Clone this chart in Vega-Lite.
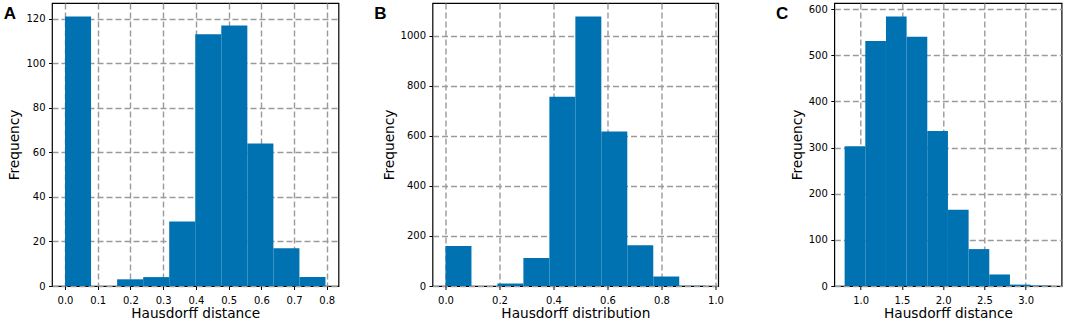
{
  "$schema": "https://vega.github.io/schema/vega-lite/v6.json",
  "padding": {"left": 3, "top": 2, "right": 0, "bottom": 0},
  "background": "white",
  "config": {
    "view": {"stroke": "black", "strokeWidth": 1.2},
    "text": {"font": "Liberation Sans", "fontSize": 17, "fontWeight": "bold", "color": "black", "align": "left", "baseline": "alphabetic"},
    "axis": {
      "domain": false,
      "ticks": true, "tickColor": "black", "tickSize": 3.5, "tickWidth": 1,
      "labelFont": "DejaVu Sans", "labelFontSize": 10, "labelColor": "black", "labelPadding": 3.5,
      "titleFont": "DejaVu Sans", "titleFontSize": 13.7, "titleFontWeight": "normal", "titleColor": "black",
      "grid": true, "gridColor": "#9a9a9a", "gridWidth": 1.4, "gridDash": [6, 3], "gridOpacity": 1,
      "zindex": 1
    },
    "axisX": {"titlePadding": 1, "labelPadding": 6},
    "axisY": {"titlePadding": 4}
  },
  "datasets": {
    "a": [
      {"lo": 0.0, "hi": 0.0796, "count": 121},
      {"lo": 0.0796, "hi": 0.1592, "count": 0},
      {"lo": 0.1592, "hi": 0.2388, "count": 3},
      {"lo": 0.2388, "hi": 0.3184, "count": 4},
      {"lo": 0.3184, "hi": 0.398, "count": 29},
      {"lo": 0.398, "hi": 0.4776, "count": 113},
      {"lo": 0.4776, "hi": 0.5572, "count": 117},
      {"lo": 0.5572, "hi": 0.6368, "count": 64},
      {"lo": 0.6368, "hi": 0.7164, "count": 17},
      {"lo": 0.7164, "hi": 0.796, "count": 4}
    ],
    "b": [
      {"lo": 0.0, "hi": 0.0962, "count": 160},
      {"lo": 0.0962, "hi": 0.1924, "count": 0},
      {"lo": 0.1924, "hi": 0.2886, "count": 10},
      {"lo": 0.2886, "hi": 0.3848, "count": 112},
      {"lo": 0.3848, "hi": 0.481, "count": 757},
      {"lo": 0.481, "hi": 0.5772, "count": 1078},
      {"lo": 0.5772, "hi": 0.6734, "count": 618},
      {"lo": 0.6734, "hi": 0.7696, "count": 163},
      {"lo": 0.7696, "hi": 0.8658, "count": 38},
      {"lo": 0.8658, "hi": 0.962, "count": 1}
    ],
    "c": [
      {"lo": 0.806, "hi": 1.0565, "count": 303},
      {"lo": 1.0565, "hi": 1.307, "count": 531},
      {"lo": 1.307, "hi": 1.5575, "count": 584},
      {"lo": 1.5575, "hi": 1.808, "count": 540},
      {"lo": 1.808, "hi": 2.0585, "count": 336},
      {"lo": 2.0585, "hi": 2.309, "count": 165},
      {"lo": 2.309, "hi": 2.5595, "count": 80},
      {"lo": 2.5595, "hi": 2.81, "count": 25},
      {"lo": 2.81, "hi": 3.0605, "count": 3},
      {"lo": 3.0605, "hi": 3.311, "count": 1}
    ],
    "panelA": [{"letter": "A"}],
    "panelB": [{"letter": "B"}],
    "panelC": [{"letter": "C"}]
  },
  "spacing": 50.3,
  "hconcat": [
    {
      "spacing": 33.5,
      "hconcat": [
        {
          "width": 286.5, "height": 283,
          "layer": [
            {
              "data": {"name": "a"},
              "mark": {"type": "bar", "color": "#0072b2"},
              "encoding": {
                "x": {"field": "lo", "type": "quantitative", "scale": {"domain": [-0.0398, 0.8358], "nice": false, "zero": false},
                      "axis": {"values": [0, 0.1, 0.2, 0.3, 0.4, 0.5, 0.6, 0.7, 0.8], "format": ".1f", "title": "Hausdorff distance"}},
                "x2": {"field": "hi"},
                "y": {"field": "count", "type": "quantitative", "scale": {"domain": [0, 127.05], "nice": false},
                      "axis": {"values": [0, 20, 40, 60, 80, 100, 120], "format": "d", "title": "Frequency"}},
                "y2": {"datum": 0}
              }
            },
            {
              "data": {"name": "panelA"},
              "mark": {"type": "text"},
              "encoding": {
                "text": {"field": "letter"},
                "x": {"datum": -0.187, "type": "quantitative",
                      "axis": {"values": [0, 0.1, 0.2, 0.3, 0.4, 0.5, 0.6, 0.7, 0.8], "format": ".1f", "title": "Hausdorff distance"}},
                "y": {"datum": 119.87, "type": "quantitative",
                      "axis": {"values": [0, 20, 40, 60, 80, 100, 120], "format": "d", "title": "Frequency"}}
              }
            }
          ]
        },
        {
          "width": 285.7, "height": 283,
          "layer": [
            {
              "data": {"name": "b"},
              "mark": {"type": "bar", "color": "#0072b2"},
              "encoding": {
                "x": {"field": "lo", "type": "quantitative", "scale": {"domain": [-0.0481, 1.0101], "nice": false, "zero": false},
                      "axis": {"values": [0, 0.2, 0.4, 0.6, 0.8, 1.0], "format": ".1f", "title": "Hausdorff distribution"}},
                "x2": {"field": "hi"},
                "y": {"field": "count", "type": "quantitative", "scale": {"domain": [0, 1131.9], "nice": false},
                      "axis": {"values": [0, 200, 400, 600, 800, 1000], "format": "d", "title": "Frequency"}},
                "y2": {"datum": 0}
              }
            },
            {
              "data": {"name": "panelB"},
              "mark": {"type": "text"},
              "encoding": {
                "text": {"field": "letter"},
                "x": {"datum": -0.2637, "type": "quantitative",
                      "axis": {"values": [0, 0.2, 0.4, 0.6, 0.8, 1.0], "format": ".1f", "title": "Hausdorff distribution"}},
                "y": {"datum": 1067.9, "type": "quantitative",
                      "axis": {"values": [0, 200, 400, 600, 800, 1000], "format": "d", "title": "Frequency"}}
              }
            }
          ]
        }
      ]
    },
    {
      "width": 227.3, "height": 283,
      "layer": [
        {
          "data": {"name": "c"},
          "mark": {"type": "bar", "color": "#0072b2"},
          "encoding": {
            "x": {"field": "lo", "type": "quantitative", "scale": {"domain": [0.6808, 3.4362], "nice": false, "zero": false},
                  "axis": {"values": [1.0, 1.5, 2.0, 2.5, 3.0], "format": ".1f", "title": "Hausdorff distance"}},
            "x2": {"field": "hi"},
            "y": {"field": "count", "type": "quantitative", "scale": {"domain": [0, 613.2], "nice": false},
                  "axis": {"values": [0, 100, 200, 300, 400, 500, 600], "format": "d", "title": "Frequency"}},
            "y2": {"datum": 0}
          }
        },
        {
          "data": {"name": "panelC"},
          "mark": {"type": "text"},
          "encoding": {
            "text": {"field": "letter"},
            "x": {"datum": -0.027, "type": "quantitative",
                  "axis": {"values": [1.0, 1.5, 2.0, 2.5, 3.0], "format": ".1f", "title": "Hausdorff distance"}},
            "y": {"datum": 578.5, "type": "quantitative",
                  "axis": {"values": [0, 100, 200, 300, 400, 500, 600], "format": "d", "title": "Frequency"}}
          }
        }
      ]
    }
  ]
}
